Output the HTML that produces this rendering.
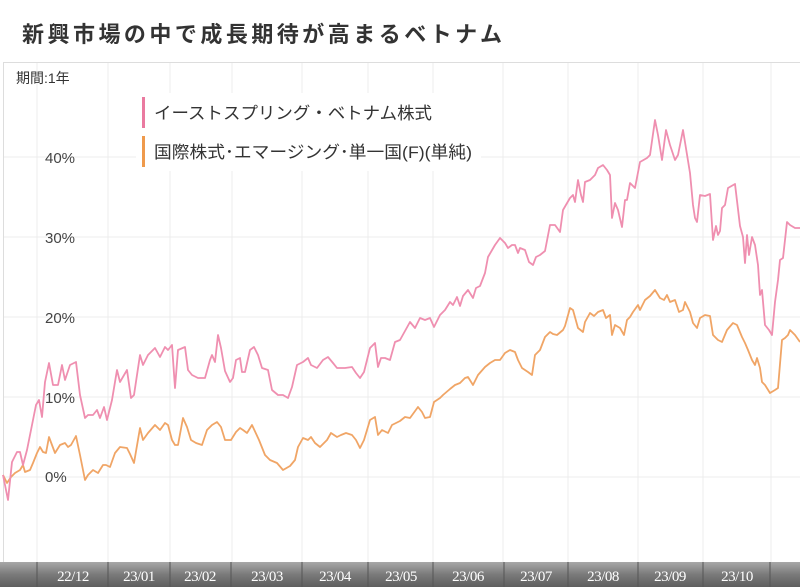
<!DOCTYPE html>
<html><head><meta charset="utf-8"><style>
body{margin:0;background:#fff;width:800px;height:587px;overflow:hidden;font-family:"Liberation Sans","Noto Sans CJK JP",sans-serif}
</style></head><body>
<svg width="800" height="587" xmlns="http://www.w3.org/2000/svg" style="position:absolute;left:0;top:0">
<defs><linearGradient id="ax" x1="0" y1="0" x2="0" y2="1"><stop offset="0" stop-color="#a8a8a8"/><stop offset="0.5" stop-color="#7a7a7a"/><stop offset="1" stop-color="#5e5e5e"/></linearGradient></defs>
<text x="22" y="42" font-size="22" font-weight="bold" fill="#333" textLength="480" lengthAdjust="spacing" font-family="Noto Sans CJK JP, sans-serif">新興市場の中で成長期待が高まるベトナム</text>
<rect x="3.5" y="62.5" width="800" height="500" fill="#fff" stroke="#ddd"/>
<g stroke="#ececec" stroke-width="1">
<line x1="37" y1="63" x2="37" y2="562"/><line x1="108" y1="63" x2="108" y2="562"/><line x1="170" y1="63" x2="170" y2="562"/><line x1="232" y1="63" x2="232" y2="562"/><line x1="302" y1="63" x2="302" y2="562"/><line x1="368" y1="63" x2="368" y2="562"/><line x1="433" y1="63" x2="433" y2="562"/><line x1="503" y1="63" x2="503" y2="562"/><line x1="568" y1="63" x2="568" y2="562"/><line x1="638" y1="63" x2="638" y2="562"/><line x1="703" y1="63" x2="703" y2="562"/><line x1="771" y1="63" x2="771" y2="562"/>
<line x1="4" y1="157" x2="800" y2="157"/><line x1="4" y1="237" x2="800" y2="237"/><line x1="4" y1="317" x2="800" y2="317"/><line x1="4" y1="397" x2="800" y2="397"/><line x1="4" y1="477" x2="800" y2="477"/>
</g>
<rect x="136" y="93" width="345" height="78" fill="#fff"/>
<g font-size="15" fill="#444"><text x="45" y="163">40%</text><text x="45" y="243">30%</text><text x="45" y="323">20%</text><text x="45" y="403">10%</text><text x="45" y="482">0%</text></g>
<text x="16" y="83" font-size="14" fill="#333">期間:1年</text>
<rect x="142" y="97" width="3" height="31" fill="#ea7aa0"/>
<rect x="142" y="136" width="3" height="31" fill="#ef9a4c"/>
<text x="154" y="119" font-size="17" fill="#333" textLength="278" lengthAdjust="spacingAndGlyphs">イーストスプリング・ベトナム株式</text>
<text x="154" y="158" font-size="17" fill="#333" textLength="318" lengthAdjust="spacingAndGlyphs">国際株式･エマージング･単一国(F)(単純)</text>
<polyline fill="none" stroke="#f0a566" stroke-width="1.8" stroke-linejoin="round" points="3,475 7,483 11,477 15,473 20,470 23,465 25,472 30,470 33,463 37,453 40,447 43,452 46,453 49,437 55,453 60,445 65,443 68,447 71,445 76,436 80,455 85,480 88,475 93,470 98,473 103,465 106,465 110,467 115,453 120,447 127,448 130,454 134,463 140,428 143,440 148,433 155,425 160,430 165,423 168,425 172,440 175,445 178,445 183,418 187,427 191,440 196,443 202,445 207,430 212,425 217,422 221,427 225,440 231,440 236,432 240,428 243,430 247,433 252,425 259,440 265,455 270,460 277,463 283,470 290,466 295,460 298,447 303,438 308,440 311,437 315,443 320,447 327,440 331,433 337,437 341,435 346,433 352,435 356,440 360,448 364,440 370,420 375,417 378,435 382,430 388,433 392,425 400,421 405,417 410,418 418,407 422,412 425,418 430,417 434,402 440,398 443,395 450,389 455,385 460,383 465,378 468,377 473,385 478,375 485,367 490,363 495,360 500,360 505,353 510,350 515,352 518,360 522,368 528,372 532,375 535,355 540,350 545,337 550,332 553,334 557,335 563,330 565,326 570,308 573,310 578,328 583,332 585,322 590,313 594,316 598,312 603,310 606,318 610,315 612,335 615,325 620,328 624,335 627,320 630,317 633,312 638,305 640,310 645,300 650,296 655,290 660,298 664,300 667,295 670,302 675,300 679,312 683,310 685,302 690,312 693,323 697,328 700,318 705,315 710,316 713,335 718,340 722,342 727,330 733,323 737,325 742,337 745,343 748,350 752,360 755,365 757,358 760,368 762,382 765,385 770,393 775,390 778,388 782,340 785,338 788,335 790,330 795,335 800,342"/>
<polyline fill="none" stroke="#ef8fb0" stroke-width="1.8" stroke-linejoin="round" points="3,475 8,500 12,462 17,452 20,452 23,465 27,450 33,420 36,405 39,400 42,417 45,382 49,363 53,385 58,385 62,365 65,380 70,365 76,362 80,395 85,418 88,415 93,415 97,410 100,418 104,407 107,420 112,400 117,370 120,382 127,370 131,398 134,395 140,355 143,365 148,355 155,348 160,357 165,347 168,350 172,345 175,388 178,350 185,347 188,370 192,375 198,378 205,378 210,360 212,355 215,362 218,335 221,348 225,371 230,382 233,378 236,360 240,358 242,372 245,372 250,350 254,347 258,355 262,368 268,370 272,390 278,395 283,395 288,398 292,387 297,365 303,362 308,358 311,365 317,368 323,360 328,357 333,363 337,368 345,368 352,367 356,373 360,378 364,372 370,348 375,343 378,367 381,358 385,358 390,360 395,342 400,340 410,322 415,328 420,318 425,320 430,318 434,327 440,315 445,310 450,302 453,305 457,297 460,306 463,296 468,290 473,298 476,288 480,286 485,273 488,257 495,245 500,238 505,243 508,248 512,245 515,245 518,253 520,248 525,250 529,262 533,265 536,257 540,255 545,251 550,225 555,225 560,232 563,210 570,198 573,195 575,202 578,180 581,195 583,202 585,182 590,180 595,175 598,168 603,165 607,170 610,175 612,218 615,203 618,210 622,227 625,200 627,200 630,183 632,185 635,188 640,162 647,158 650,155 655,120 658,135 662,160 666,130 670,145 675,160 678,155 683,130 690,173 693,205 695,218 697,222 700,195 705,196 710,194 713,240 716,226 718,235 720,231 722,208 725,205 728,188 735,184 740,226 743,237 745,263 747,235 749,255 752,237 755,245 758,265 760,295 762,290 765,325 769,330 772,335 775,302 778,280 780,260 783,258 787,222 790,225 795,228 800,228"/>
<rect x="0" y="562" width="800" height="25" fill="url(#ax)"/>
<g stroke="#555" stroke-width="1"><line x1="37" y1="562" x2="37" y2="587"/><line x1="108" y1="562" x2="108" y2="587"/><line x1="170" y1="562" x2="170" y2="587"/><line x1="231" y1="562" x2="231" y2="587"/><line x1="302" y1="562" x2="302" y2="587"/><line x1="368" y1="562" x2="368" y2="587"/><line x1="433" y1="562" x2="433" y2="587"/><line x1="504" y1="562" x2="504" y2="587"/><line x1="568" y1="562" x2="568" y2="587"/><line x1="638" y1="562" x2="638" y2="587"/><line x1="703" y1="562" x2="703" y2="587"/><line x1="770" y1="562" x2="770" y2="587"/></g>
<g font-size="15" fill="#fff" text-anchor="middle" font-family="Liberation Serif, serif" letter-spacing="-0.5"><text x="73" y="581">22/12</text><text x="139" y="581">23/01</text><text x="200" y="581">23/02</text><text x="267" y="581">23/03</text><text x="335" y="581">23/04</text><text x="401" y="581">23/05</text><text x="468" y="581">23/06</text><text x="536" y="581">23/07</text><text x="603" y="581">23/08</text><text x="670" y="581">23/09</text><text x="737" y="581">23/10</text></g>
</svg>
</body></html>
